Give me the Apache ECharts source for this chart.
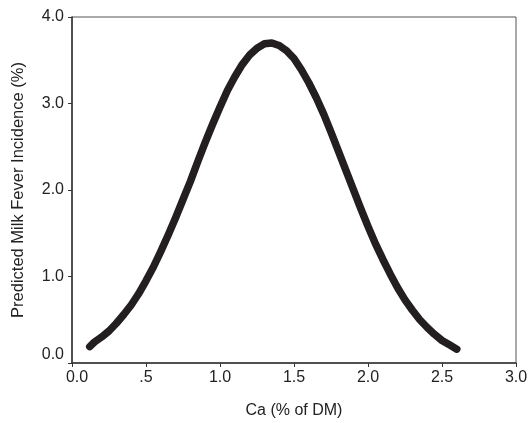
<!DOCTYPE html>
<html>
<head>
<meta charset="utf-8">
<script src="https://cdn.jsdelivr.net/npm/echarts@6/dist/echarts.min.js"></script>
<style>html,body{margin:0;padding:0;background:#fff;}#c{width:529px;height:423px;}</style>
</head>
<body>
<div id="c"></div>
<script>
const caPct = [0.12,0.15,0.20,0.25,0.30,0.35,0.40,0.45,0.50,0.55,0.60,0.65,0.70,0.75,0.80,0.85,0.90,0.95,1.00,1.05,1.10,1.15,1.20,1.25,1.30,1.35,1.40,1.45,1.50,1.55,1.60,1.65,1.70,1.75,1.80,1.85,1.90,1.95,2.00,2.05,2.10,2.15,2.20,2.25,2.30,2.35,2.40,2.45,2.50,2.55,2.60];
const incidence = [0.19,0.24,0.30,0.37,0.46,0.56,0.67,0.80,0.95,1.11,1.29,1.48,1.68,1.89,2.10,2.33,2.55,2.76,2.96,3.15,3.31,3.45,3.56,3.64,3.69,3.70,3.67,3.61,3.52,3.39,3.24,3.07,2.88,2.67,2.45,2.23,2.01,1.79,1.58,1.38,1.20,1.03,0.87,0.73,0.61,0.50,0.41,0.33,0.26,0.21,0.16];
const xTickLabels = {0:'0.0',0.5:'.5',1:'1.0',1.5:'1.5',2:'2.0',2.5:'2.5',3:'3.0'};
const yTickLabels = {0:'0.0',1:'1.0',2:'2.0',3:'3.0',4:'4.0'};

const chart = echarts.init(document.getElementById('c'), null, {renderer:'canvas'});
const font = 'Liberation Sans, Arial, sans-serif';
const axisCol = '#333';
const txt = '#222';
chart.setOption({
  animation:false,
  backgroundColor:'#fff',
  grid:{left:72,right:13,top:17,bottom:60,containLabel:false,outerBoundsMode:'none',show:true,borderColor:'#555',borderWidth:1,backgroundColor:'transparent'},
  xAxis:{
    type:'value',min:0,max:3,interval:0.5,
    name:'Ca (% of DM)',nameLocation:'middle',nameGap:40,
    nameTextStyle:{fontFamily:font,fontSize:16,color:txt},
    axisLine:{show:true,lineStyle:{color:axisCol,width:1.5}},
    axisTick:{show:true,length:4,inside:false,lineStyle:{color:axisCol}},
    splitLine:{show:false},
    axisLabel:{fontFamily:font,fontSize:16,color:txt,margin:7,
      formatter:v=>{const k=Math.round(v*10)/10;const s=xTickLabels[k];return k===0?'{a|'+s+'}':s;},
      rich:{a:{fontFamily:font,fontSize:16,color:txt,padding:[0,0,0,10]}}}
  },
  yAxis:{
    type:'value',min:0,max:4,interval:1,
    name:'Predicted Milk Fever Incidence (%)',nameLocation:'middle',nameGap:45,nameRotate:90,
    nameTextStyle:{fontFamily:font,fontSize:16.5,color:txt},
    axisLine:{show:true,lineStyle:{color:axisCol,width:1.5}},
    axisTick:{show:true,length:4,inside:false,lineStyle:{color:axisCol}},
    splitLine:{show:false},
    axisLabel:{fontFamily:font,fontSize:16,color:txt,margin:8,
      formatter:v=>{const s=yTickLabels[Math.round(v)];return v===0?'{a|'+s+'}':s;},
      rich:{a:{fontFamily:font,fontSize:16,color:txt,padding:[0,0,16,0]}}}
  },
  series:[{
    type:'line',
    data:caPct.map((x,i)=>[x,incidence[i]]),
    smooth:false,
    symbol:'none',
    lineStyle:{color:'#231f20',width:7.5,cap:'round',join:'round'}
  }]
});
</script>
</body>
</html>
